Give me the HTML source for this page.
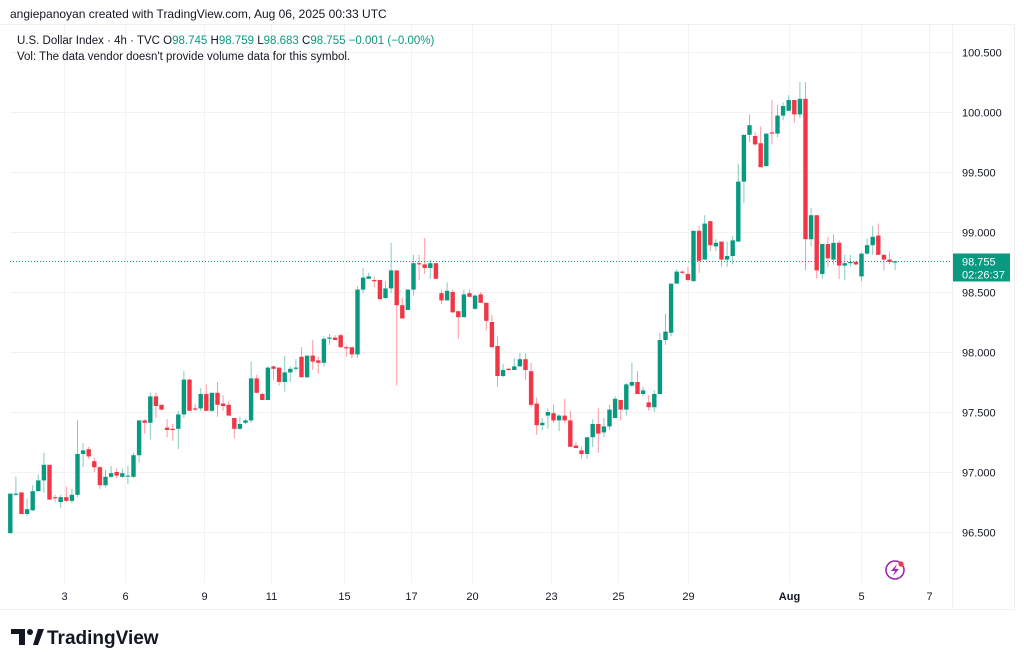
<!DOCTYPE html>
<html><head><meta charset="utf-8">
<style>
body{margin:0;background:#fff;width:1024px;height:665px;overflow:hidden;font-family:"Liberation Sans",sans-serif;}
svg text{font-family:"Liberation Sans",sans-serif;}
</style></head>
<body>
<svg id="chart" width="1024" height="665" viewBox="0 0 1024 665" xmlns="http://www.w3.org/2000/svg">
<rect x="0" y="0" width="1024" height="665" fill="#fff"/>
<text x="10" y="18" font-size="12" fill="#131722">angiepanoyan created with TradingView.com, Aug 06, 2025 00:33 UTC</text>
<line x1="0" y1="24.5" x2="1014" y2="24.5" stroke="#f0f0f0"/>
<line x1="1014.5" y1="24" x2="1014.5" y2="609" stroke="#f0f0f0"/>
<line x1="0" y1="609.5" x2="1014" y2="609.5" stroke="#f0f0f0"/>
<line x1="952.5" y1="24" x2="952.5" y2="609" stroke="#f0f0f0"/>
<g id="grid"></g>
<g id="candles"></g>
<g id="axes"></g>
<text x="17" y="44" font-size="11.5" fill="#131722">U.S. Dollar Index · 4h · TVC  <tspan fill="#131722">O</tspan><tspan fill="#089981">98.745</tspan>  <tspan fill="#131722">H</tspan><tspan fill="#089981">98.759</tspan>  <tspan fill="#131722">L</tspan><tspan fill="#089981">98.683</tspan>  <tspan fill="#131722">C</tspan><tspan fill="#089981">98.755  −0.001 (−0.00%)</tspan></text>
<text x="17" y="60" font-size="11.5" fill="#131722">Vol: The data vendor doesn't provide volume data for this symbol.</text>
<g>
<circle cx="895" cy="570" r="9" fill="none" stroke="#9c27b0" stroke-width="1.6"/>
<path d="M897 564 L891 571 L895 571 L893 576 L899 569 L895 569 Z" fill="#9c27b0"/>
<circle cx="901" cy="564" r="2.6" fill="#f23645"/>
</g>
<g>
<path d="M11 629 H25 V645 H19 V634 H11 Z" fill="#131722"/>
<circle cx="30" cy="632" r="3" fill="#131722"/>
<path d="M33 645 L38 629 H44 L38 645 Z" fill="#131722"/>
<text x="47" y="644" font-size="19" font-weight="bold" fill="#131722">TradingView</text>
</g>
</svg>
<script>
const priceTicks = [100.5, 100.0, 99.5, 99.0, 98.5, 98.0, 97.5, 97.0, 96.5];
const dateLabels = ["3","6","9","11","15","17","20","23","25","29","Aug","5","7"];
const dateLabelIndex = [9.5, 20.5, 34.5, 46.5, 59.5, 71.5, 82.5, 96.5, 108.5, 121, 139, 152, 164];
const lastPrice = 98.755;
const lastPriceLabel = "98.755";
const countdown = "02:26:37";
const opens = [96.49,96.81,96.83,96.65,96.68,96.84,96.93,97.06,96.79,96.75,96.79,96.76,96.81,97.15,97.19,97.09,97.04,96.89,96.96,97.0,96.96,96.97,96.96,97.14,97.43,97.41,97.63,97.56,97.37,97.36,97.36,97.48,97.77,97.53,97.53,97.65,97.51,97.66,97.57,97.56,97.45,97.36,97.41,97.43,97.78,
97.65,97.60,97.88,97.87,97.75,97.83,97.86,97.96,97.79,97.97,97.93,97.91,98.11,98.12,98.14,98.04,98.04,97.98,98.52,98.61,98.60,98.60,98.45,98.53,98.68,98.39,98.35,98.52,98.74,98.73,98.70,98.74,98.49,98.43,98.50,98.34,98.29,98.49,98.36,98.48,98.41,98.25,98.05,97.80,97.86,97.85,97.88,97.94,
97.84,97.57,97.39,97.47,97.49,97.43,97.47,97.43,97.22,97.18,97.15,97.29,97.40,97.33,97.38,97.45,97.60,97.52,97.72,97.75,97.65,97.58,97.54,97.65,98.10,98.16,98.57,
98.67,98.65,98.59,99.01,98.77,99.09,98.88,98.92,98.77,98.80,98.92,99.42,99.81,99.80,99.74,99.55,99.83,99.82,99.97,100.01,100.10,99.98,100.11,98.94,99.14,98.65,98.90,98.77,98.91,98.72,98.74,98.75,98.63,98.82,98.89,98.97,98.81,98.77,98.745];
const highs = [96.82,96.96,96.83,96.78,96.89,96.98,97.16,97.06,96.81,96.81,96.88,96.86,97.43,97.24,97.21,97.12,97.05,97.02,97.05,97.03,97.03,97.05,97.16,97.43,97.44,97.66,97.66,97.56,97.44,97.40,97.51,97.84,97.78,97.57,97.70,97.73,97.66,97.75,97.64,97.59,97.45,97.46,97.44,97.92,97.81,
97.66,97.88,97.89,97.87,97.97,97.88,97.94,98.04,97.97,98.10,97.96,98.13,98.15,98.14,98.15,98.06,98.04,98.55,98.70,98.66,98.63,98.60,98.59,98.91,98.68,98.45,98.52,98.81,98.81,98.95,98.77,98.74,98.52,98.58,98.52,98.34,98.52,98.52,98.48,98.50,98.41,98.31,98.13,97.90,97.87,97.95,97.99,97.99,
97.91,97.62,97.45,97.53,97.56,97.48,97.61,97.51,97.25,97.21,97.29,97.44,97.53,97.45,97.56,97.63,97.60,97.74,97.91,97.84,97.71,97.64,97.68,98.16,98.32,98.57,98.69,
98.68,98.71,99.01,99.05,99.14,99.09,98.94,98.92,98.92,98.97,99.57,99.81,99.98,99.83,99.88,99.82,100.10,100.06,100.08,100.14,100.10,100.25,100.25,99.20,99.14,98.90,98.96,98.98,98.93,98.81,98.81,98.76,98.83,98.95,99.05,99.07,98.81,98.83,98.759];
const lows = [96.49,96.80,96.65,96.63,96.68,96.84,96.83,96.77,96.75,96.70,96.75,96.74,96.79,97.04,97.11,97.00,96.86,96.87,96.95,96.95,96.95,96.90,96.95,97.08,97.32,97.27,97.45,97.51,97.29,97.26,97.19,97.45,97.51,97.51,97.51,97.51,97.50,97.46,97.51,97.47,97.28,97.35,97.40,97.41,97.66,
97.60,97.60,97.77,97.72,97.67,97.75,97.84,97.79,97.78,97.85,97.82,97.88,98.06,98.10,98.03,97.96,97.95,97.95,98.49,98.61,98.54,98.44,98.44,98.49,97.72,98.28,98.35,98.47,98.60,98.65,98.61,98.61,98.40,98.43,98.33,98.11,98.29,98.46,98.35,98.41,98.18,98.04,97.71,97.79,97.84,97.85,97.88,97.77,
97.54,97.31,97.35,97.36,97.41,97.34,97.41,97.21,97.20,97.11,97.11,97.21,97.16,97.29,97.35,97.45,97.43,97.47,97.71,97.65,97.63,97.51,97.50,97.65,98.06,98.13,98.57,
98.65,98.59,98.59,98.66,98.77,98.84,98.84,98.71,98.71,98.73,98.92,99.24,99.75,99.72,99.54,99.54,99.73,99.79,99.93,100.01,99.91,99.95,98.68,98.88,98.61,98.61,98.71,98.73,98.61,98.60,98.71,98.72,98.59,98.81,98.81,98.81,98.68,98.73,98.683];
const closes = [96.82,96.82,96.65,96.69,96.84,96.93,97.06,96.77,96.78,96.79,96.76,96.81,97.15,97.18,97.13,97.04,96.89,96.96,96.99,96.97,96.99,96.97,97.14,97.43,97.41,97.63,97.55,97.52,97.35,97.35,97.48,97.77,97.51,97.52,97.65,97.51,97.66,97.56,97.55,97.47,97.36,97.40,97.43,97.78,97.66,
97.60,97.87,97.86,97.75,97.83,97.86,97.87,97.79,97.97,97.92,97.91,98.11,98.12,98.10,98.04,98.03,97.98,98.52,98.62,98.63,98.59,98.44,98.53,98.68,98.39,98.28,98.52,98.74,98.73,98.70,98.74,98.61,98.43,98.51,98.33,98.29,98.48,98.46,98.47,98.41,98.26,98.04,97.80,97.85,97.85,97.88,97.94,97.85,
97.56,97.39,97.41,97.50,97.43,97.47,97.43,97.21,97.20,97.15,97.29,97.40,97.32,97.38,97.52,97.61,97.52,97.73,97.75,97.65,97.68,97.54,97.65,98.10,98.17,98.57,98.67,
98.66,98.60,99.01,98.76,99.07,98.89,98.91,98.77,98.80,98.93,99.42,99.81,99.89,99.73,99.54,99.82,99.82,99.97,100.05,100.10,99.98,100.11,98.94,99.14,98.68,98.90,98.78,98.91,98.72,98.74,98.75,98.73,98.82,98.89,98.96,98.81,98.77,98.75,98.755];

const NS="http://www.w3.org/2000/svg";
const plotL=10, plotR=952, plotT=25, plotB=583;
const x0=10.3, step=5.6;
function xAt(i){return x0+i*step;}
function yAt(p){return 112+(100-p)*120;}
function mk(tag,attrs,parent){const e=document.createElementNS(NS,tag);for(const k in attrs)e.setAttribute(k,attrs[k]);parent.appendChild(e);return e;}
const grid=document.getElementById('grid'), cg=document.getElementById('candles'), ax=document.getElementById('axes');
priceTicks.forEach(p=>{
  const y=Math.round(yAt(p))+0.5;
  const gl=mk('line',{x1:plotL,x2:plotR,y1:y,y2:y,stroke:'#f2f2f2'},grid);
  
  
  const t=mk('text',{x:962,y:y+4,'font-size':11,fill:'#131722'},ax);
  t.textContent=p.toFixed(3);
  
  
});
dateLabels.forEach((d,k)=>{
  const x=Math.round(xAt(dateLabelIndex[k]))+0.5;
  const gl=mk('line',{x1:x,x2:x,y1:plotT,y2:plotB,stroke:'#f2f2f2'},grid);
  
  
  const t=mk('text',{x:x,y:600,'font-size':11,fill:'#131722','text-anchor':'middle','font-weight':d==='Aug'?'bold':'normal'},ax);
  t.textContent=d;
  
  
});
opens.forEach((o,i)=>{
  const c=closes[i], up=c>=o, col=up?'#089981':'#f23645';
  const x=xAt(i);
  const g=mk('g',{},cg);
  
  
  mk('line',{x1:x,x2:x,y1:yAt(highs[i]),y2:yAt(lows[i]),stroke:col,'stroke-opacity':0.5,'stroke-width':1},g);
  const yt=yAt(Math.max(o,c)), yb=yAt(Math.min(o,c));
  mk('rect',{x:x-2.2,y:yt,width:4.4,height:Math.max(1,yb-yt),fill:col},g);
});
const ly=Math.round(yAt(lastPrice))+0.5;
const pl=mk('line',{x1:plotL,x2:plotR,y1:ly,y2:ly,stroke:'#089981','stroke-dasharray':'1 2','stroke-width':1},ax);


const box=mk('rect',{x:953,y:ly-8,width:57,height:28,fill:'#089981'},ax);


const lt=mk('text',{x:962,y:ly+4,'font-size':11,fill:'#fff'},ax);
lt.textContent=lastPriceLabel;


const ct=mk('text',{x:962,y:ly+17,'font-size':11,fill:'#fff'},ax);
ct.textContent=countdown;


</script>
</body></html>
